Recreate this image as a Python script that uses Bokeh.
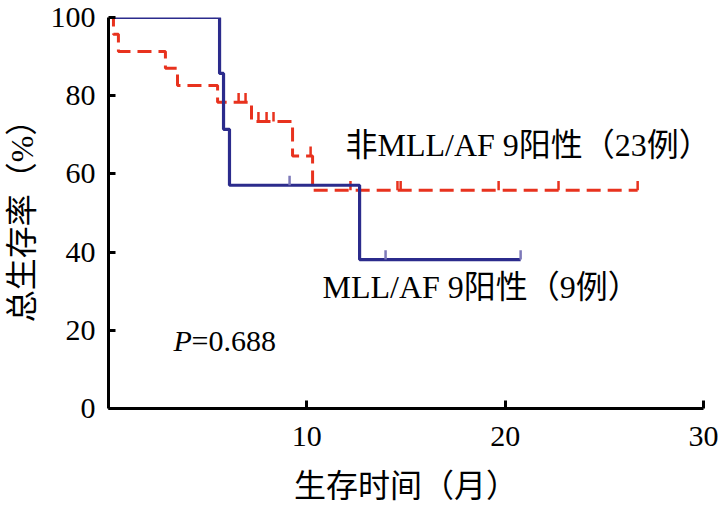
import math
from bokeh.plotting import figure
from bokeh.models import FixedTicker, Range1d
from bokeh.core.properties import value
from bokeh.embed import file_html
from bokeh.resources import INLINE

# ---- data ----
# MLL/AF9 positive (9 cases): event times (months) and survival (%)
blue_t = [0, 5.6, 5.8, 6.1, 12.66, 20.78]
blue_s = [100, 85.7, 71.4, 57.1, 38.1, 38.1]
blue_cens_t = [4.08, 5.35, 9.13, 13.97, 20.78]
blue_cens_s = [100, 100, 57.1, 38.1, 38.1]

# non MLL/AF9 positive (23 cases)
red_t = [0, 0.25, 0.5, 2.87, 3.48, 5.5, 7.21, 9.28, 10.29, 26.68]
red_s = [100, 95.7, 91.3, 87.0, 82.6, 78.3, 73.4, 64.6, 55.8, 55.8]
red_cens_t = [6.56, 6.91, 7.56, 7.97, 8.32, 10.19, 12.2, 14.57, 14.73, 19.67, 22.69, 26.68]
red_cens_s = [78.3, 78.3, 73.4, 73.4, 73.4, 64.6, 55.8, 55.8, 55.8, 55.8, 55.8, 55.8]

x_ticks = [10, 20, 30]
y_ticks = [0, 20, 40, 60, 80, 100]

label_red = "非MLL/AF 9阳性（23例）"
label_blue = "MLL/AF 9阳性（9例）"
p_label = "P"
p_value = "=0.688"
x_title = "生存时间（月）"
y_title = "总生存率（%）"

BLUE = "#2b2b8c"
BLUE_TICK = "#7d79b9"
RED = "#e8321e"
TICK_H = 2.4  # censor tick height in % units
SERIF = "Liberation Serif, Noto Sans CJK SC"

p = figure(width=719, height=506, x_range=Range1d(0, 30), y_range=Range1d(0, 100),
           output_backend="svg", toolbar_location=None,
           min_border_left=108, min_border_right=16, min_border_top=17, min_border_bottom=98)
p.outline_line_color = None
p.xgrid.grid_line_color = None
p.ygrid.grid_line_color = None
p.background_fill_color = "white"

# curves
p.step(red_t, red_s, mode="after", line_color=RED, line_width=3, line_dash="14 7")
p.segment(x0=red_cens_t, y0=red_cens_s, x1=red_cens_t,
          y1=[s + TICK_H for s in red_cens_s], line_color=RED, line_width=2.5)
p.step(blue_t, blue_s, mode="after", line_color=BLUE, line_width=3.2)
p.segment(x0=blue_cens_t, y0=blue_cens_s, x1=blue_cens_t,
          y1=[s + TICK_H for s in blue_cens_s], line_color=BLUE_TICK, line_width=2.5)

# annotations
p.text(x=[11.95], y=[67.3], text=[label_red], text_font=value(SERIF), text_font_size="32px",
       text_baseline="middle", text_align="left", text_color="black")
p.text(x=[10.79], y=[31.2], text=[label_blue], text_font=value(SERIF), text_font_size="32px",
       text_baseline="middle", text_align="left", text_color="black")
p.text(x=[3.28], y=[17.4], text=[p_label], text_font=value("Liberation Serif"), text_font_size="30px",
       text_font_style="italic", text_baseline="middle", text_align="left", text_color="black")
p.text(x=[3.28], y=[17.4], x_offset=18, text=[p_value], text_font=value("Liberation Serif"),
       text_font_size="30px", text_baseline="middle", text_align="left", text_color="black")

# axes
for ax in (p.xaxis[0], p.yaxis[0]):
    ax.axis_line_width = 3
    ax.axis_line_color = "black"
    ax.major_tick_line_width = 3
    ax.major_tick_line_color = "black"
    ax.major_tick_out = 0
    ax.minor_tick_line_color = None
    ax.major_label_text_font = "Liberation Serif"
    ax.major_label_text_font_size = "30px"
    ax.major_label_text_color = "black"
    ax.axis_label_text_font = SERIF
    ax.axis_label_text_font_size = "32px"
    ax.axis_label_text_font_style = "normal"
    ax.axis_label_text_color = "black"

p.xaxis.ticker = FixedTicker(ticks=x_ticks)
p.xaxis.major_tick_in = 8
p.xaxis.major_label_standoff = 18
p.xaxis.axis_label = x_title
p.xaxis.axis_label_standoff = 19

p.yaxis.ticker = FixedTicker(ticks=y_ticks)
p.yaxis.major_tick_in = 7
p.yaxis.major_label_standoff = 13
p.yaxis.axis_label = y_title
p.yaxis.axis_label_standoff = 8

open("out.html", "w").write(file_html(p, INLINE))
